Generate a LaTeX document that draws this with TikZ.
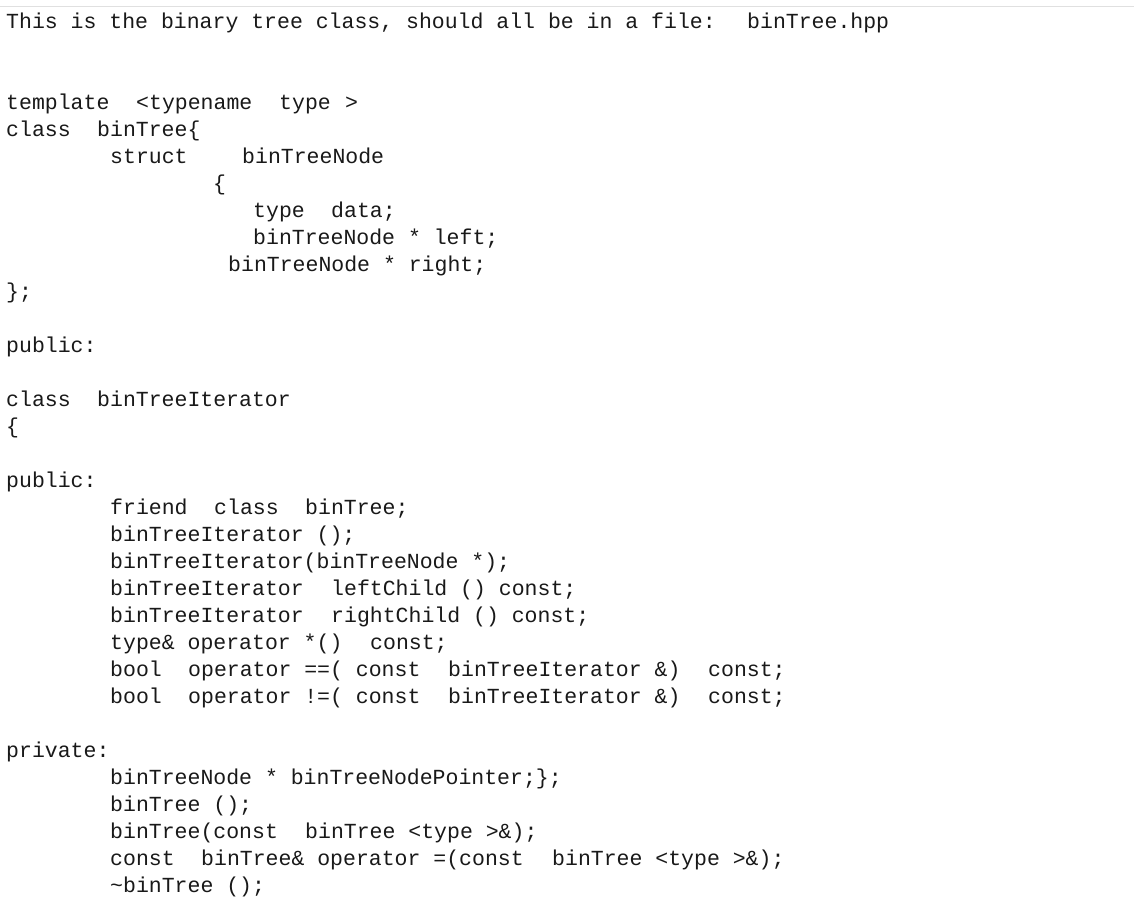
\documentclass[tikz,border=0pt]{standalone}
\usepackage{fontspec}
\setmonofont{Liberation Mono}
\tikzset{t/.style={anchor=base west,inner sep=0pt,text=black!90,font=\fontsize{21.5}{21.5}\selectfont\ttfamily}}
\newcommand\tx[4]{\node[t] (#1) at (#2,-#3) {#4};}
\begin{document}
\begin{tikzpicture}[x=1pt,y=1pt]
\useasboundingbox (0,0) rectangle (1134,-902);
\fill[white] (0,0) rectangle (1134,-902);
\draw[black!12,line width=1pt] (0,-6) -- (1134,-6);
\tx{a1}{6}{28}{This is the binary tree class, should all be in a file:}
\tx{a2}{747}{28}{binTree.hpp}
\tx{b1}{6}{109}{template}\tx{b2}{136}{109}{<typename}\tx{b3}{279}{109}{type}\tx{b4}{345}{109}{>}
\tx{c1}{6}{136}{class}\tx{c2}{97}{136}{binTree\{}
\tx{d1}{110}{163}{struct}\tx{d2}{242}{163}{binTreeNode}
\tx{e1}{213}{190}{\{}
\tx{f1}{253}{217}{type}\tx{f2}{331}{217}{data;}
\tx{g1}{253}{244}{binTreeNode * left;}
\tx{h1}{228}{271}{binTreeNode * right;}
\tx{i1}{6}{298}{\};}
\tx{j1}{6}{352}{public:}
\tx{k1}{6}{406}{class}\tx{k2}{97}{406}{binTreeIterator}
\tx{l1}{6}{433}{\{}
\tx{m1}{6}{487}{public:}
\tx{n1}{110}{514}{friend}\tx{n2}{214}{514}{class}\tx{n3}{305}{514}{binTree;}
\tx{o1}{110}{541}{binTreeIterator ();}
\tx{p1}{110}{568}{binTreeIterator(binTreeNode *);}
\tx{q1}{110}{595}{binTreeIterator}\tx{q2}{331}{595}{leftChild () const;}
\tx{r1}{110}{622}{binTreeIterator}\tx{r2}{331}{622}{rightChild () const;}
\tx{s1}{110}{649}{type\& operator *()}\tx{s2}{370}{649}{const;}
\tx{u1}{110}{676}{bool}\tx{u2}{188}{676}{operator ==( const}\tx{u3}{448}{676}{binTreeIterator \&)}\tx{u4}{708}{676}{const;}
\tx{v1}{110}{703}{bool}\tx{v2}{188}{703}{operator !=( const}\tx{v3}{448}{703}{binTreeIterator \&)}\tx{v4}{708}{703}{const;}
\tx{w1}{6}{757}{private:}
\tx{x1}{110}{784}{binTreeNode * binTreeNodePointer;\};}
\tx{y1}{110}{811}{binTree ();}
\tx{z1}{110}{838}{binTree(const}\tx{z2}{305}{838}{binTree <type >\&);}
\tx{zz1}{110}{865}{const}\tx{zz2}{201}{865}{binTree\& operator =(const}\tx{zz3}{552}{865}{binTree <type >\&);}
\tx{zy1}{110}{892}{\textasciitilde binTree ();}
\end{tikzpicture}
\end{document}
